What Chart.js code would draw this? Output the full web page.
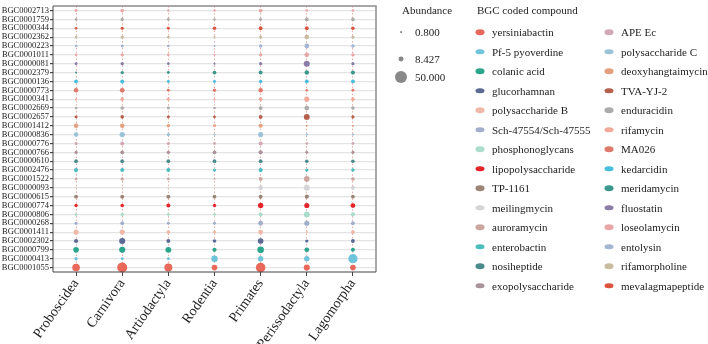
<!DOCTYPE html>
<html lang="en">
  <head>
    <meta charset="UTF-8" />
    <script src="https://cdn.jsdelivr.net/npm/chart.js"></script>
    <title>BGC abundance</title>
    <style>
      body { margin: 0; background: #fff; }
      #wrap { position: relative; width: 708px; height: 344px; font-family: "Liberation Serif", "Times New Roman", serif; color: #222; }
      #myChartCanvas { position: absolute; left: 0; top: 0; }
      .lg { position: absolute; font-size: 11px; line-height: 1; white-space: nowrap; transform: translateY(-50%); }
      .dot { position: absolute; border-radius: 50%; transform: translate(-50%, -50%); }
    </style>
  </head>
  <body>
    <div id="wrap">
      <canvas id="myChartCanvas" width="708" height="344"></canvas>
      <div id="legend"></div>
    </div>
  </body>
</html>
<script>
  // categorias
  const hosts = ["Proboscidea", "Carnivora", "Artiodactyla", "Rodentia", "Primates", "Perissodactyla", "Lagomorpha"];

  const bgcIds = [
    "BGC0002713", "BGC0001759", "BGC0000344", "BGC0002362", "BGC0000223", "BGC0001011",
    "BGC0000081", "BGC0002379", "BGC0000136", "BGC0000773", "BGC0000341", "BGC0002669",
    "BGC0002657", "BGC0001412", "BGC0000836", "BGC0000776", "BGC0000766", "BGC0000610",
    "BGC0002476", "BGC0001522", "BGC0000093", "BGC0000615", "BGC0000774", "BGC0000806",
    "BGC0000268", "BGC0001411", "BGC0002302", "BGC0000799", "BGC0000413", "BGC0001055"
  ];

  // compound coded by each BGC (same order as bgcIds)
  const bgcCompound = [
    "loseolamycin", "enduracidin", "mevalagmapeptide", "rifamorpholine", "entolysin", "loseolamycin",
    "fluostatin", "meridamycin", "kedarcidin", "MA026", "rifamycin", "enduracidin",
    "TVA-YJ-2", "deoxyhangtaimycin", "polysaccharide C", "APE Ec", "exopolysaccharide", "nosiheptide",
    "enterobactin", "auroramycin", "meilingmycin", "TP-1161", "lipopolysaccharide", "phosphonoglycans",
    "Sch-47554/Sch-47555", "polysaccharide B", "glucorhamnan", "colanic acid", "Pf-5 pyoverdine", "yersiniabactin"
  ];

  const compounds = [
    "yersiniabactin", "Pf-5 pyoverdine", "colanic acid", "glucorhamnan", "polysaccharide B",
    "Sch-47554/Sch-47555", "phosphonoglycans", "lipopolysaccharide", "TP-1161", "meilingmycin",
    "auroramycin", "enterobactin", "nosiheptide", "exopolysaccharide",
    "APE Ec", "polysaccharide C", "deoxyhangtaimycin", "TVA-YJ-2", "enduracidin", "rifamycin",
    "MA026", "kedarcidin", "meridamycin", "fluostatin", "loseolamycin", "entolysin",
    "rifamorpholine", "mevalagmapeptide"
  ];

  const compoundColors = [
    "#E8685A", "#6FC3DA", "#2CA58D", "#5A6A94", "#F0B8A6",
    "#A0AECB", "#A9DCCB", "#E3242B", "#9B8576", "#D5D5D8",
    "#CCA69E", "#4CBEC0", "#4A8A8C", "#AA9299",
    "#D2A8B6", "#9AC3D9", "#E3A07F", "#B4604C", "#ABABAB", "#F3A89A",
    "#DE7A6C", "#48BEDD", "#3E978C", "#8A7EA8", "#E8A8A8", "#A4B6D2",
    "#C9BCA0", "#D9533F"
  ];

  // abundance per host, one value per BGC (top to bottom)
  const proboscidea = [3, 2.5, 2.5, 2.5, 2.5, 2.5, 3, 1.5, 5, 7, 1.5, 2.5, 3, 7, 7, 3.5, 3.5, 5, 6, 2.5, 1.5, 5, 4, 2.5, 3.5, 9, 6, 11, 4, 20];
  const carnivora = [5, 3.5, 3.5, 4, 3, 4, 4, 4, 5.5, 8, 4.5, 4.5, 4.5, 7, 10, 5.5, 5, 5, 5.5, 3.5, 1.5, 5.5, 4.5, 4, 5, 9, 13, 13, 3, 35];
  const artiodactyla = [2, 3, 3, 2.5, 2.5, 2.5, 2.5, 3, 3, 3, 3, 3, 3, 4, 3.5, 3.5, 4, 5, 5.5, 2.5, 1.2, 5.5, 5.5, 3, 3, 5, 5.5, 12, 3, 22];
  const rodentia = [2, 2, 4.5, 1.5, 1.5, 1.5, 1.5, 5, 3, 4, 1.5, 2.5, 2.5, 3, 1.5, 3, 5, 5, 3.5, 1.2, 1, 5, 4, 2.5, 3, 3.5, 4.5, 6, 14, 11];
  const primates = [5, 3, 5, 3.5, 4.5, 4, 3.5, 5.5, 4, 7, 4.5, 5, 5, 6, 9, 6, 6, 5, 6, 5, 7, 5.5, 10, 5.5, 8, 8, 11, 15, 10, 32];
  const perissodactyla = [2.5, 5, 5, 8, 8, 8, 13, 7, 5, 2, 9, 8, 12, 1.5, 1.8, 2.5, 3, 4.5, 3.5, 11, 13, 6, 9, 12, 9, 1.5, 3.5, 8, 10, 13];
  const lagomorpha = [2.5, 4.5, 4.5, 3.5, 4.5, 4, 3.5, 6, 5, 3, 4.5, 4.5, 3.5, 1.5, 1.5, 3, 3.5, 4.5, 4, 4.5, 5.5, 5, 8, 6, 5, 5.5, 5, 5.5, 30, 11];
  const hostValues = [proboscidea, carnivora, artiodactyla, rodentia, primates, perissodactyla, lagomorpha];

  const sizeBreaks = [0.8, 8.427, 50];

  // tamanho do ponto: area proporcional a abundancia
  function sizeOf(v) {
    return Math.max(0.9, 6 * Math.sqrt(v / 50));
  }

  function colorOf(name) {
    return compoundColors[compounds.indexOf(name)];
  }

  var datasets = [];
  for (var i = 0; i < bgcIds.length; i++) {
    var pts = [];
    for (var j = 0; j < hosts.length; j++) {
      var v = hostValues[j][i];
      pts.push({ x: hosts[j], y: bgcIds[i], r: sizeOf(v), v: v });
    }
    datasets.push({
      label: bgcIds[i],
      data: pts,
      backgroundColor: colorOf(bgcCompound[i]),
      borderWidth: 0,
      hoverRadius: 0,
    });
  }

  const frame = {
    id: "frame",
    afterDraw(chart) {
      const { ctx, chartArea: a } = chart;
      ctx.save();
      ctx.lineWidth = 1.5;
      ctx.strokeStyle = "#8c8c8c";
      ctx.beginPath();
      ctx.moveTo(a.left, a.top);
      ctx.lineTo(a.right, a.top);
      ctx.lineTo(a.right, a.bottom);
      ctx.stroke();
      ctx.lineWidth = 1;
      ctx.strokeStyle = "#444";
      ctx.beginPath();
      ctx.moveTo(a.left, a.top);
      ctx.lineTo(a.left, a.bottom);
      ctx.lineTo(a.right, a.bottom);
      ctx.stroke();
      ctx.restore();
    },
  };

  const serif = "'Liberation Serif', 'Times New Roman', serif";

  new Chart(document.getElementById("myChartCanvas"), {
    type: "bubble",
    data: { datasets: datasets },
    options: {
      responsive: false,
      animation: false,
      layout: { padding: { top: 3, right: 332, left: 0, bottom: 0 } },
      plugins: { legend: { display: false }, tooltip: { enabled: false } },
      scales: {
        x: {
          type: "category",
          labels: hosts,
          offset: true,
          grid: { offset: false, color: "rgba(225,140,128,0.7)", lineWidth: 1, tickColor: "#444", tickLength: 4 },
          border: { display: false, dash: [1.5, 2] },
          ticks: { font: { family: serif, size: 14 }, color: "#222", minRotation: 55, maxRotation: 55, autoSkip: false, padding: 0 },
          afterFit(scale) { scale.height = 72; },
        },
        y: {
          type: "category",
          labels: bgcIds,
          offset: true,
          grid: { offset: false, color: "#e4e4e4", lineWidth: 1.2, tickColor: "#444", tickLength: 3 },
          border: { display: false },
          ticks: { font: { family: serif, size: 8.5 }, color: "#222", autoSkip: false, padding: 1 },
          afterFit(scale) { scale.width = 53; },
        },
      },
    },
    plugins: [frame],
  });

  // legenda em html
  var legend = document.getElementById("legend");
  function addText(txt, x, y) {
    var s = document.createElement("div");
    s.className = "lg";
    s.style.left = x + "px";
    s.style.top = y + "px";
    s.textContent = txt;
    legend.appendChild(s);
  }
  function addDot(x, y, w, h, color) {
    var d = document.createElement("div");
    d.className = "dot";
    d.style.left = x + "px";
    d.style.top = y + "px";
    d.style.width = w + "px";
    d.style.height = h + "px";
    d.style.background = color;
    legend.appendChild(d);
  }

  addText("Abundance", 402, 10);
  var sizeY = [32, 59, 77];
  for (var k = 0; k < sizeBreaks.length; k++) {
    var r = sizeOf(sizeBreaks[k]);
    addDot(401, sizeY[k], 2 * r, 2 * r, "#888");
    addText(sizeBreaks[k].toFixed(3), 415, sizeY[k]);
  }

  addText("BGC coded compound", 477, 10);
  for (var c = 0; c < compounds.length; c++) {
    var col = Math.floor(c / 14);
    var row = c % 14;
    var y = 32 + row * 19.5;
    var mx = col === 0 ? 480 : 609;
    addDot(mx, y, 9, 5.5, compoundColors[c]);
    addText(compounds[c], mx + 12, y);
  }
</script>
